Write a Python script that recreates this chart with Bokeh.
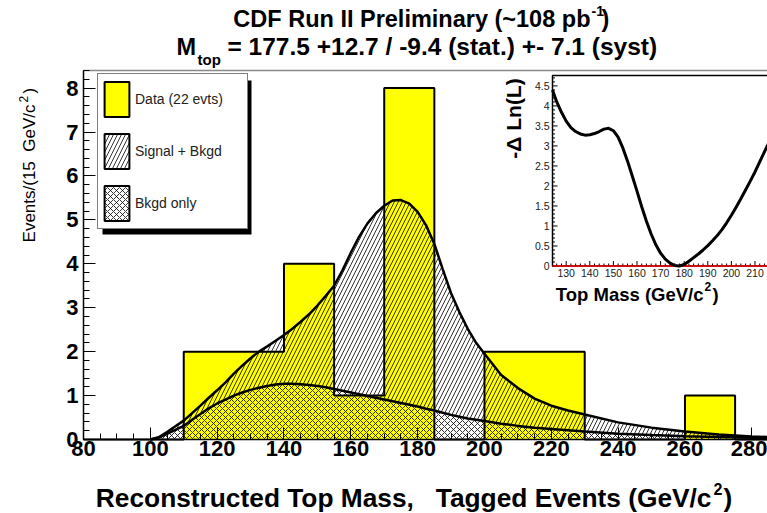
import numpy as np
from bokeh.plotting import figure
from bokeh.models import (Range1d, LinearAxis, FixedTicker, Label, Legend,
                          LegendItem, ColumnDataSource)
from bokeh.core.properties import value
from bokeh.embed import file_html
from bokeh.resources import INLINE

# ---------------- data ----------------
bin_edges = [80, 95, 110, 125, 140, 155, 170, 185, 200, 215, 230, 245, 260, 275, 290]
data_counts = [0, 0, 2, 2, 4, 1, 8, 0, 2, 2, 0, 0, 1, 0]

curve_mass = [100, 102.5, 105, 107.5, 110, 112.5, 115, 117.5, 120, 122.5, 125, 127.5,
              130, 132.5, 135, 137.5, 140, 142.5, 145, 147.5, 150, 152.5, 155, 157.5,
              160, 162.5, 165, 167.5, 170, 172.5, 175, 177.5, 180, 182.5, 185, 187.5,
              190, 192.5, 195, 197.5, 200, 205, 210, 215, 220, 225, 230, 240, 250,
              260, 270, 280, 290]
sig_bkgd = [0, 0.05, 0.17, 0.30, 0.43, 0.60, 0.77, 0.95, 1.12, 1.30, 1.50, 1.68,
            1.85, 2.0, 2.12, 2.25, 2.38, 2.52, 2.68, 2.85, 3.05, 3.27, 3.50, 3.85,
            4.25, 4.62, 4.92, 5.15, 5.32, 5.44, 5.45, 5.37, 5.18, 4.88, 4.45, 3.88,
            3.33, 2.90, 2.52, 2.20, 1.95, 1.47, 1.17, 0.93, 0.77, 0.66, 0.57, 0.39,
            0.27, 0.18, 0.115, 0.07, 0.04]
bkgd_only = [0, 0.04, 0.13, 0.22, 0.31, 0.45, 0.58, 0.71, 0.82, 0.91, 1.0, 1.07,
             1.13, 1.18, 1.22, 1.25, 1.27, 1.27, 1.26, 1.24, 1.22, 1.19, 1.15, 1.11,
             1.07, 1.03, 0.99, 0.95, 0.91, 0.87, 0.83, 0.79, 0.75, 0.70, 0.66, 0.61,
             0.56, 0.52, 0.48, 0.45, 0.42, 0.36, 0.31, 0.27, 0.24, 0.21, 0.18, 0.13,
             0.10, 0.075, 0.055, 0.04, 0.03]

lik_mass = [124.2, 126, 128, 130, 132, 134, 136, 138, 140, 142, 144, 146, 148, 150,
            152, 154, 156, 158, 160, 162, 164, 166, 168, 170, 172, 174, 176, 178, 180,
            182, 184, 186, 188, 190, 192, 194, 196, 198, 200, 202, 204, 206, 208, 210,
            212, 214, 216]
lik_dlnl = [4.4, 4.1, 3.84, 3.62, 3.46, 3.36, 3.30, 3.27, 3.28, 3.31, 3.36, 3.42, 3.44,
            3.38, 3.22, 2.95, 2.62, 2.25, 1.87, 1.48, 1.12, 0.80, 0.53, 0.32, 0.17, 0.07,
            0.015, 0.0, 0.04, 0.12, 0.21, 0.30, 0.40, 0.51, 0.63, 0.76, 0.91, 1.08, 1.27,
            1.47, 1.68, 1.90, 2.12, 2.35, 2.6, 2.85, 3.1]

x_ticks = [80, 100, 120, 140, 160, 180, 200, 220, 240, 260, 280]
y_ticks = [0, 1, 2, 3, 4, 5, 6, 7, 8]
inset_x_ticks = [130, 140, 150, 160, 170, 180, 190, 200, 210]
inset_y_ticks = [0, 0.5, 1, 1.5, 2, 2.5, 3, 3.5, 4, 4.5]
inset_y_labels = ["0", "0.5", "1", "1.5", "2", "2.5", "3", "3.5", "4", "4.5"]

legend_labels = ["Data (22 evts)", "Signal + Bkgd", "Bkgd only"]

# ---------------- layout (canvas pixels) ----------------
W, H = 767, 513
FL, FT, FB, FR = 83, 70, 439, 767          # main plot box
X0, X1 = 80.0, 284.7                       # main axis limits
Y0, Y1 = 0.0, 8.4
SX = (FR - FL) / (X1 - X0)
SY = (FB - FT) / (Y1 - Y0)


def dx(px):
    return X0 + (px - FL) / SX


def dy(py):
    return Y0 + (FB - py) / SY


# inset box
IL, IT, IB = 552.0, 75.0, 265.5
IX0, IY1 = 124.2, 4.76
ISX = 2.36
ISY = (IB - IT) / IY1

FONT = "Liberation Sans"

p = figure(width=W, height=H, x_range=Range1d(dx(0), dx(W)), y_range=Range1d(dy(H), dy(0)),
           output_backend="svg", toolbar_location=None, title=None,
           min_border_left=0, min_border_right=0, min_border_top=0, min_border_bottom=0)
p.extra_x_ranges = {"ins": Range1d(IX0 - IL / ISX, IX0 + (W - IL) / ISX)}
p.extra_y_ranges = {"ins": Range1d(-(H - IB) / ISY, IB / ISY)}
p.grid.visible = False
p.outline_line_color = None
p.background_fill_color = "white"
p.border_fill_color = "white"

xa = p.xaxis[0]
xa.fixed_location = Y0
xa.bounds = (X0, X1)
xa.ticker = FixedTicker(ticks=x_ticks, minor_ticks=list(np.arange(80, 291, 5)))
ya = p.yaxis[0]
ya.fixed_location = X0
ya.bounds = (Y0, Y1)
ya.ticker = FixedTicker(ticks=y_ticks, minor_ticks=list(np.round(np.arange(0, 8.41, 0.2), 2)))
for ax in (xa, ya):
    ax.major_tick_in = 12
    ax.major_tick_out = 0
    ax.minor_tick_in = 6
    ax.minor_tick_out = 0
    ax.axis_line_color = "black"
    ax.axis_line_width = 1.5
    ax.major_tick_line_width = 1
    ax.minor_tick_line_width = 1
    ax.major_label_text_font = FONT
    ax.major_label_text_font_style = "bold"
    ax.major_label_text_font_size = "22px"
    ax.major_label_text_color = "black"
xa.major_label_standoff = 1
ya.major_label_standoff = 5

top_axis = LinearAxis(ticker=FixedTicker(ticks=[]), major_label_text_font_size="0px",
                      fixed_location=Y1, bounds=(X0, X1),
                      axis_line_color="#888888", axis_line_width=1.5,
                      major_tick_out=0, minor_tick_out=0)
p.add_layout(top_axis, "above")

# ---- histogram fill ----
p.varea_step(x=bin_edges, y1=0, y2=data_counts + [0], step_mode="after",
             fill_color="#ffff00")
# ---- hatched templates ----
p.varea(x=curve_mass, y1=bkgd_only, y2=sig_bkgd, fill_color=None,
        hatch_pattern="/", hatch_color="black", hatch_scale=8, hatch_weight=0.8)
p.varea(x=curve_mass, y1=0, y2=bkgd_only, fill_color=None,
        hatch_pattern="x", hatch_color="black", hatch_scale=6, hatch_weight=0.8)
p.line(curve_mass, sig_bkgd, line_color="black", line_width=2.5)
p.line(curve_mass, bkgd_only, line_color="black", line_width=2.5)
# ---- histogram outline ----
p.step(x=bin_edges, y=data_counts + [0], mode="after", line_color="black", line_width=2)

# ---------------- inset ----------------
R = dict(x_range_name="ins", y_range_name="ins")
p.quad(left=[IX0], right=[IX0 + 200], bottom=[0], top=[IY1], fill_color="white",
       line_color="black", line_width=1.5, **R)
ix_minor = [t for t in range(126, 216, 2) if t not in inset_x_ticks]
p.segment(x0=inset_x_ticks, y0=0, x1=inset_x_ticks, y1=5 / ISY, line_color="black",
          line_width=1, **R)
p.segment(x0=ix_minor, y0=0, x1=ix_minor, y1=2.5 / ISY, line_color="black",
          line_width=1, **R)
iy_minor = [round(v, 2) for v in np.arange(0.1, 4.75, 0.1) if round(v * 10) % 5 != 0]
p.segment(x0=IX0, y0=inset_y_ticks, x1=IX0 + 5 / ISX, y1=inset_y_ticks,
          line_color="black", line_width=1, **R)
p.segment(x0=IX0, y0=iy_minor, x1=IX0 + 2.5 / ISX, y1=iy_minor,
          line_color="black", line_width=1, **R)
p.segment(x0=[IX0], y0=[0], x1=[IX0 + 200], y1=[0], line_color="red", line_width=1.5, **R)
p.line(lik_mass, lik_dlnl, line_color="black", line_width=3, **R)

xsrc = ColumnDataSource(dict(x=inset_x_ticks, y=[-3 / ISY] * len(inset_x_ticks),
                             t=[str(v) for v in inset_x_ticks]))
p.text(x="x", y="y", text="t", source=xsrc, text_align="center", text_baseline="top",
       text_font=value(FONT), text_font_size="10.5px", text_color="#222222", **R)
ysrc = ColumnDataSource(dict(x=[IX0 - 3 / ISX] * len(inset_y_ticks), y=inset_y_ticks,
                             t=inset_y_labels))
p.text(x="x", y="y", text="t", source=ysrc, text_align="right", text_baseline="middle",
       text_font=value(FONT), text_font_size="10.5px", text_color="#222222", **R)


# ---------------- texts ----------------
def lab(text, X, Y, size, bold=True, align="left", baseline="alphabetic", angle=0.0):
    p.add_layout(Label(x=dx(X), y=dy(Y), text=text, text_font=FONT,
                       text_font_size=f"{size}px",
                       text_font_style="bold" if bold else "normal",
                       text_align=align, text_baseline=baseline, angle=angle,
                       text_color="black"))


lab("CDF Run II Preliminary (~108 pb", 590, 18.5, 23.5, align="right")
lab("-1", 591, 10, 14)
lab(")", 601, 18.5, 23.5)
lab("M", 176, 46.5, 23.5)
lab("top", 197, 58.6, 15)
lab("= 177.5 +12.7 / -9.4 (stat.) +- 7.1 (syst)", 227, 46.2, 24.5)

lab("Reconstructed Top Mass,\u00a0\u00a0 Tagged Events (GeV/c", 711, 497.6, 26.3, align="right")
lab("2", 713, 488, 16)
lab(")", 723, 497.6, 26.3)

lab("Events/(15 \u00a0GeV/c", 28.9, 104, 17, bold=False, align="right", angle=np.pi / 2)
lab("2", 22.7, 102, 12, bold=False, angle=np.pi / 2)
lab(")", 28.9, 93, 17, bold=False, angle=np.pi / 2)

lab("-\u0394 Ln(L)", 513, 118, 21, align="center", angle=np.pi / 2)
lab("Top Mass (GeV/c", 703, 294.3, 18.5, align="right")
lab("2", 704, 285.7, 12)
lab(")", 712, 294.3, 18.5)

# ---------------- legend ----------------
p.quad(left=[dx(102)], right=[dx(251)], top=[dy(80)], bottom=[dy(234)],
       fill_color="black", line_color=None)
NAN = [float("nan")]
leg_data = p.quad(left=NAN, right=NAN, top=NAN, bottom=NAN, fill_color="#ffff00",
                  line_color="black", line_width=2)
leg_sb = p.quad(left=NAN, right=NAN, top=NAN, bottom=NAN, fill_color="white",
                hatch_pattern="/", hatch_color="black", hatch_scale=8, hatch_weight=0.8,
                line_color="black", line_width=2)
leg_bk = p.quad(left=NAN, right=NAN, top=NAN, bottom=NAN, fill_color="white",
                hatch_pattern="x", hatch_color="black", hatch_scale=6, hatch_weight=0.8,
                line_color="black", line_width=2)
legend = Legend(items=[LegendItem(label=legend_labels[0], renderers=[leg_data]),
                       LegendItem(label=legend_labels[1], renderers=[leg_sb]),
                       LegendItem(label=legend_labels[2], renderers=[leg_bk])],
                location=(97, H - 229), orientation="vertical",
                glyph_width=31, glyph_height=44, spacing=8, padding=3,
                label_standoff=3, label_width=109, margin=0,
                label_text_font=FONT, label_text_font_size="14px",
                label_text_color="#222222",
                border_line_color="black", border_line_width=1,
                background_fill_color="white", background_fill_alpha=1.0)
p.add_layout(legend, "center")

open("out.html", "w").write(file_html(p, INLINE))
